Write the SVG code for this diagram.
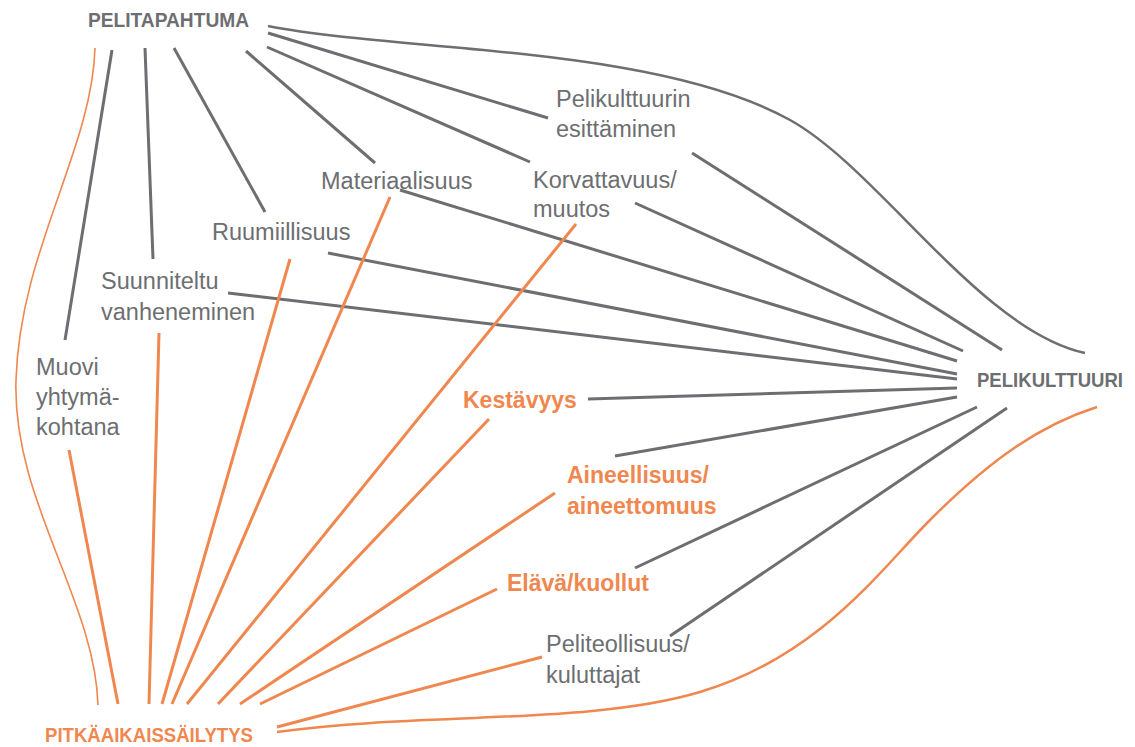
<svg xmlns="http://www.w3.org/2000/svg" width="1135" height="747" viewBox="0 0 1135 747">
<style>
.bg{fill:#ffffff}
.t{font-family:"Liberation Sans",Arial,sans-serif;font-size:23.5px;fill:#6d6e71}
.tb{font-family:"Liberation Sans",Arial,sans-serif;font-weight:bold;font-size:23px;fill:#ef874f}
.hg{font-family:"Liberation Sans",Arial,sans-serif;font-weight:bold;font-size:20.5px;fill:#6d6e71}
.hr{font-family:"Liberation Sans",Arial,sans-serif;font-weight:bold;font-size:19.5px;fill:#6d6e71}
.ho{font-family:"Liberation Sans",Arial,sans-serif;font-weight:bold;font-size:20px;fill:#ef874f}
.g{fill:none;stroke:#6d6e71;stroke-width:3}
.gc{fill:none;stroke:#6d6e71;stroke-width:2.5}
.o{fill:none;stroke:#ef874f;stroke-width:3}
.ot{fill:none;stroke:#ef874f;stroke-width:1.6}
.oc{fill:none;stroke:#ef874f;stroke-width:2.5}
</style>
<rect class="bg" x="0" y="0" width="1135" height="747"/>
<g id="connectors">
  <path class="gc" d="M268,26 C400,52 655,45 790,120 C880,170 980,330 1085,353"/>
  <path class="g" d="M268,33 L548,118"/>
  <path class="g" d="M692,153 L1002,350"/>
  <path class="g" d="M267,47 L530,162"/>
  <path class="g" d="M635,203 L963,351"/>
  <path class="g" d="M246,51 L375,163"/>
  <path class="g" d="M174,48 L265,212"/>
  <path class="g" d="M145,48 L153,259"/>
  <path class="g" d="M112,50 L65,340"/>
  <path class="g" d="M400,190 L957,361"/>
  <path class="g" d="M328,253 L957,374"/>
  <path class="g" d="M228,293 L957,379"/>
  <path class="g" d="M588,399 L957,388"/>
  <path class="g" d="M615,456 L957,397"/>
  <path class="g" d="M635,568 L977,407"/>
  <path class="g" d="M670,636 L1007,408"/>
  <path class="ot" d="M95,48 C92,150 20,250 16,380 C12,500 95,600 98,705"/>
  <path class="o" d="M69,450 L118,704"/>
  <path class="o" d="M159,333 L149,704"/>
  <path class="o" d="M290,259 L162,704"/>
  <path class="o" d="M390,197 L172,704"/>
  <path class="o" d="M576,224 L187,704"/>
  <path class="o" d="M489,419 L218,704"/>
  <path class="o" d="M555,493 L240,704"/>
  <path class="o" d="M497,589 L260,704"/>
  <path class="o" d="M542,657 L277,727"/>
  <path class="oc" d="M277,732 C420,712 590,725 700,692 C820,656 880,570 930,520 C990,460 1040,425 1097,407"/>
</g>
<g id="pelitapahtuma"><text class="hg" x="88" y="27" textLength="161" lengthAdjust="spacingAndGlyphs">PELITAPAHTUMA</text></g>
<g id="pelikulttuuri"><text class="hr" x="977" y="387" textLength="146" lengthAdjust="spacingAndGlyphs">PELIKULTTUURI</text></g>
<g id="pitkaaikaissailytys"><text class="ho" x="45" y="742" textLength="208" lengthAdjust="spacingAndGlyphs">PITKÄAIKAISSÄILYTYS</text></g>
<g id="pelikulttuurin-esittaminen"><text class="t" x="556" y="107">Pelikulttuurin</text><text class="t" x="556" y="137">esittäminen</text></g>
<g id="materiaalisuus"><text class="t" x="321" y="189">Materiaalisuus</text></g>
<g id="korvattavuus"><text class="t" x="533" y="188">Korvattavuus/</text><text class="t" x="533" y="217">muutos</text></g>
<g id="ruumiillisuus"><text class="t" x="212" y="240">Ruumiillisuus</text></g>
<g id="suunniteltu"><text class="t" x="101" y="289">Suunniteltu</text><text class="t" x="101" y="320">vanheneminen</text></g>
<g id="muovi"><text class="t" x="36" y="375">Muovi</text><text class="t" x="36" y="405">yhtymä-</text><text class="t" x="36" y="435">kohtana</text></g>
<g id="kestavyys"><text class="tb" x="463" y="408">Kestävyys</text></g>
<g id="aineellisuus"><text class="tb" x="567" y="483">Aineellisuus/</text><text class="tb" x="567" y="514">aineettomuus</text></g>
<g id="elava"><text class="tb" x="507" y="591">Elävä/kuollut</text></g>
<g id="peliteollisuus"><text class="t" x="546" y="652">Peliteollisuus/</text><text class="t" x="546" y="683">kuluttajat</text></g>
</svg>
